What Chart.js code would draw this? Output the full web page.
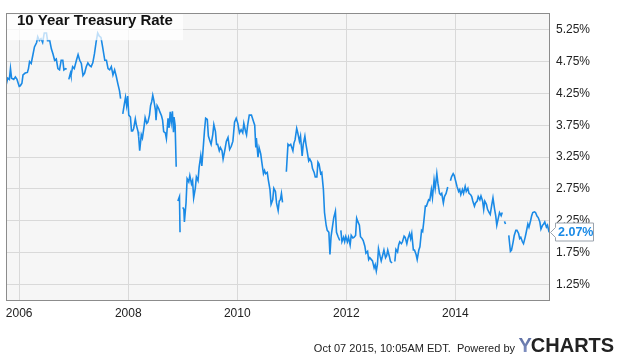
<!DOCTYPE html>
<html>
<head>
<meta charset="utf-8">
<script src="https://cdn.jsdelivr.net/npm/chart.js@4.4.1/dist/chart.umd.min.js"></script>
<style>
html,body{margin:0;padding:0;background:#fff;}
#wrap{width:623px;height:357px;position:relative;}
</style>
</head>
<body>
<div id="wrap"><canvas id="c" width="623" height="357"></canvas></div>
<script>
// ---- data (decimal years, percent); null = gap in the series ----
const dates = [
  2005.76,2005.79,2005.82,2005.84,2005.86,2005.90,2005.93,2005.96,2006.00,2006.02,
  2006.05,2006.07,2006.11,2006.15,2006.17,2006.19,2006.22,2006.25,2006.28,2006.32,
  2006.34,2006.37,2006.40,2006.43,2006.46,2006.50,2006.52,2006.56,2006.59,2006.62,
  2006.65,2006.68,2006.71,2006.74,2006.77,2006.80,2006.82,2006.85,2006.87,
  2006.89,
  2006.91,2006.94,2006.95,2006.98,2007.01,2007.05,2007.08,2007.11,2007.14,2007.17,
  2007.20,2007.23,2007.26,2007.29,2007.32,2007.35,2007.38,2007.41,2007.44,2007.47,
  2007.50,2007.53,2007.57,2007.60,2007.63,2007.66,2007.69,2007.72,2007.75,2007.78,
  2007.81,2007.84,2007.86,
  2007.88,
  2007.90,2007.93,2007.95,2007.97,2007.99,2008.01,2008.04,2008.06,2008.08,2008.10,
  2008.13,2008.15,2008.18,2008.19,2008.21,2008.24,2008.26,2008.29,2008.31,2008.34,
  2008.36,2008.39,2008.41,2008.43,2008.45,2008.47,2008.50,2008.51,2008.53,2008.56,
  2008.58,2008.61,2008.63,2008.65,2008.68,2008.70,2008.73,2008.75,2008.77,2008.79,
  2008.81,2008.83,2008.84,2008.86,2008.88,
  2008.895,
  2008.91,2008.94,2008.95,
  2008.98,
  2009.00,2009.02,2009.03,2009.06,2009.08,2009.11,2009.13,2009.16,2009.18,2009.20,
  2009.23,2009.25,2009.28,2009.30,2009.33,2009.35,2009.38,2009.40,2009.42,2009.45,
  2009.47,2009.50,2009.52,2009.55,2009.57,2009.60,2009.62,2009.64,2009.67,2009.69,
  2009.72,2009.74,2009.77,2009.80,2009.83,2009.86,2009.89,2009.92,2009.95,2009.98,
  2010.01,2010.04,2010.07,2010.10,2010.12,2010.15,2010.17,2010.19,2010.22,2010.26,
  2010.29,2010.32,2010.34,2010.35,2010.38,2010.40,2010.43,2010.45,2010.48,2010.50,
  2010.52,2010.55,2010.57,2010.60,2010.62,2010.65,2010.67,2010.70,2010.72,2010.75,
  2010.77,2010.79,2010.81,2010.83,
  2010.87,
  2010.90,2010.93,2010.95,2010.98,2011.00,2011.02,2011.04,2011.06,2011.09,2011.11,
  2011.14,2011.16,2011.19,2011.21,2011.24,2011.26,2011.28,2011.31,2011.33,2011.36,
  2011.38,2011.41,2011.43,2011.46,2011.48,2011.50,2011.53,2011.55,2011.58,2011.60,
  2011.63,2011.65,2011.68,2011.70,2011.72,2011.75,2011.77,2011.80,2011.82,2011.85,
  2011.88,
  2011.89,
  2011.90,2011.92,2011.95,2011.97,2011.99,2012.02,2012.04,2012.07,2012.09,2012.12,
  2012.14,2012.17,2012.19,2012.21,2012.24,2012.26,2012.29,2012.31,2012.34,2012.36,
  2012.39,2012.41,2012.43,2012.46,2012.48,2012.51,2012.53,2012.55,2012.57,2012.59,
  2012.62,2012.64,2012.67,2012.69,2012.72,2012.74,2012.76,2012.79,2012.81,2012.84,
  2012.865,
  2012.89,2012.91,2012.94,2012.96,2012.98,2013.01,2013.03,2013.06,2013.08,2013.11,
  2013.13,2013.16,2013.18,2013.20,2013.23,2013.25,2013.28,2013.30,2013.33,2013.35,
  2013.38,2013.40,2013.42,2013.45,2013.47,2013.51,2013.53,2013.56,2013.58,2013.61,
  2013.63,2013.66,2013.68,2013.71,2013.73,2013.75,2013.78,2013.80,2013.83,2013.86,
  2013.885,
  2013.91,2013.93,2013.96,2013.98,2014.01,2014.03,2014.06,2014.08,2014.10,2014.13,
  2014.15,2014.18,2014.20,2014.23,2014.25,2014.28,2014.30,2014.32,2014.35,2014.37,
  2014.40,2014.42,2014.45,2014.47,2014.50,2014.52,2014.54,2014.57,2014.59,2014.62,
  2014.64,2014.67,2014.69,2014.72,2014.74,2014.76,2014.79,2014.81,2014.84,2014.86,
  2014.88,
  2014.90,2014.92,
  2014.95,
  2014.98,2015.01,2015.03,2015.06,2015.08,2015.11,2015.13,2015.16,2015.18,2015.20,
  2015.23,2015.25,2015.28,2015.30,2015.33,2015.35,2015.38,2015.40,2015.42,2015.45,
  2015.47,2015.50,2015.52,2015.55,2015.57,2015.60,2015.62,2015.64,2015.67,2015.69,
  2015.72
];
const rates = [
  4.38,4.49,4.47,4.64,4.49,4.47,4.51,4.47,4.36,4.37,
  4.41,4.54,4.57,4.58,4.64,4.75,4.72,4.85,4.98,5.05,
  5.14,5.08,5.11,5.05,5.20,5.20,5.08,5.08,4.95,4.87,
  4.77,4.79,4.64,4.62,4.77,4.77,4.62,4.64,4.63,
  null,
  4.47,4.57,4.53,4.67,4.64,4.77,4.86,4.77,4.72,4.53,
  4.57,4.67,4.73,4.69,4.67,4.73,4.87,5.05,5.20,5.15,
  5.13,4.98,4.77,4.77,4.64,4.62,4.67,4.54,4.62,4.52,
  4.40,4.29,4.17,
  null,
  3.93,4.09,4.19,4.06,4.21,3.91,3.88,3.66,3.66,3.70,
  3.85,3.75,3.65,3.58,3.35,3.60,3.55,3.73,3.87,3.78,
  3.80,3.91,4.06,4.12,4.22,4.14,3.98,3.83,4.06,4.01,
  3.96,3.90,3.83,3.65,3.63,3.54,3.86,3.71,3.96,3.80,
  3.97,3.64,3.88,3.75,3.10,
  null,
  2.56,2.63,2.07,
  null,
  2.46,2.43,2.23,2.53,2.91,2.86,2.96,2.83,2.88,2.61,
  2.76,2.94,2.88,3.09,3.27,3.11,3.45,3.68,3.86,3.84,
  3.58,3.50,3.45,3.60,3.76,3.65,3.45,3.45,3.35,3.40,
  3.35,3.22,3.35,3.50,3.56,3.37,3.42,3.50,3.80,3.86,
  3.78,3.63,3.68,3.63,3.78,3.66,3.60,3.75,3.91,3.91,
  3.83,3.75,3.40,3.55,3.25,3.40,3.30,3.17,2.99,3.04,
  2.99,3.01,2.89,2.74,2.51,2.58,2.76,2.71,2.53,2.41,
  2.56,2.58,2.68,2.54,
  null,
  3.02,3.45,3.43,3.45,3.40,3.35,3.47,3.52,3.70,3.63,
  3.50,3.58,3.27,3.45,3.58,3.45,3.35,3.19,3.22,3.17,
  3.07,3.01,2.94,2.94,3.17,3.14,2.99,3.01,2.74,2.38,
  2.18,2.10,2.07,1.72,2.00,2.18,2.30,2.40,2.07,2.00,
  1.94,
  null,
  2.10,1.92,1.99,1.92,2.00,1.92,1.99,1.87,2.02,1.98,
  1.99,2.02,2.29,2.24,2.18,2.00,1.97,1.94,1.85,1.74,
  1.77,1.64,1.67,1.64,1.62,1.51,1.56,1.46,1.56,1.81,
  1.69,1.62,1.72,1.79,1.67,1.70,1.79,1.69,1.61,1.59,
  null,
  1.61,1.80,1.76,1.87,1.92,1.89,1.92,2.01,1.99,1.89,
  1.97,2.05,1.97,2.05,1.79,1.79,1.72,1.64,1.79,1.84,
  2.10,2.08,2.23,2.48,2.48,2.58,2.57,2.74,2.61,2.89,
  2.76,2.99,2.84,2.68,2.66,2.68,2.53,2.63,2.68,2.78,
  null,
  2.88,2.94,2.99,2.96,2.86,2.79,2.71,2.74,2.66,2.74,
  2.68,2.79,2.71,2.76,2.68,2.66,2.63,2.56,2.48,2.53,
  2.56,2.63,2.58,2.64,2.56,2.43,2.56,2.51,2.43,2.38,
  2.35,2.51,2.61,2.43,2.33,2.18,2.30,2.38,2.33,2.38,
  null,
  2.24,2.20,
  null,
  2.02,1.77,1.79,1.92,2.02,2.10,2.10,2.05,1.97,1.99,
  1.92,1.89,1.99,2.07,2.20,2.15,2.25,2.33,2.38,2.39,
  2.38,2.32,2.30,2.23,2.12,2.18,2.20,2.23,2.15,2.18,
  2.07
];
const xTicks = [2006, 2008, 2010, 2012, 2014];
const yTicks = [1.25, 1.75, 2.25, 2.75, 3.25, 3.75, 4.25, 4.75, 5.25];
const chartTitle = "10 Year Treasury Rate";
const footerText = "Oct 07 2015, 10:05AM EDT.  Powered by";

const FONT = "'Liberation Sans', Arial, Helvetica, sans-serif";
const LINE_COLOR = '#1a8ae6';

const points = dates.map((d, i) => ({ x: d, y: rates[i] }));
let lastVal = null;
for (let i = rates.length - 1; i >= 0; i--) { if (rates[i] !== null) { lastVal = rates[i]; break; } }

const decor = {
  id: 'decor',
  beforeDraw(chart) {
    const { ctx, chartArea: a } = chart;
    ctx.save();
    ctx.fillStyle = '#f6f6f6';
    ctx.fillRect(a.left, a.top, a.right - a.left, a.bottom - a.top);
    ctx.restore();
  },
  afterDatasetsDraw(chart) {
    const { ctx, chartArea: a } = chart;
    ctx.save();
    // title box
    ctx.fillStyle = 'rgba(255,255,255,0.72)';
    ctx.fillRect(a.left + 1, a.top + 1, 176, 26);
    ctx.fillStyle = '#111';
    ctx.font = 'bold 15px ' + FONT;
    ctx.textBaseline = 'alphabetic';
    ctx.textAlign = 'left';
    ctx.fillText(chartTitle, 17, 24.5);
    // frame
    ctx.strokeStyle = '#8c8c8c';
    ctx.lineWidth = 1;
    ctx.strokeRect(Math.round(a.left) + 0.5, Math.round(a.top) + 0.5,
                   Math.round(a.right - a.left) - 1, Math.round(a.bottom - a.top) - 1);
    ctx.restore();
  },
  afterDraw(chart) {
    const { ctx, chartArea: a } = chart;
    const ys = chart.scales.y;
    ctx.save();
    // last value tag
    const py = Math.round(ys.getPixelForValue(lastVal)) + 0.5;
    const L = a.right + 5.5, R = L + 38, T = py - 9.5, B = py + 8.5;
    ctx.beginPath();
    ctx.moveTo(a.right + 0.5, py);
    ctx.lineTo(L, py - 5);
    ctx.lineTo(L, T);
    ctx.lineTo(R, T);
    ctx.lineTo(R, B);
    ctx.lineTo(L, B);
    ctx.lineTo(L, py + 5);
    ctx.closePath();
    ctx.fillStyle = '#fff';
    ctx.fill();
    ctx.strokeStyle = '#9aa3ad';
    ctx.lineWidth = 1;
    ctx.stroke();
    ctx.fillStyle = LINE_COLOR;
    ctx.font = 'bold 12.5px ' + FONT;
    ctx.textAlign = 'left';
    ctx.textBaseline = 'middle';
    ctx.fillText(lastVal.toFixed(2) + '%', L + 2.5, py);
    // footer
    ctx.textBaseline = 'alphabetic';
    ctx.textAlign = 'right';
    ctx.fillStyle = '#222';
    ctx.font = '11px ' + FONT;
    ctx.fillText(footerText, 515, 351.5);
    ctx.textAlign = 'left';
    ctx.font = 'bold 20px ' + FONT;
    const g = ctx.createLinearGradient(0, 337, 0, 352);
    g.addColorStop(0, '#5d6fa3');
    g.addColorStop(1, '#7f8fc0');
    ctx.fillStyle = g;
    ctx.fillText('Y', 518.5, 352);
    const yw = ctx.measureText('Y').width;
    ctx.fillStyle = '#222';
    ctx.fillText('CHARTS', 518.5 + yw - 1, 352);
    ctx.restore();
  }
};

new Chart(document.getElementById('c'), {
  type: 'line',
  data: {
    datasets: [{
      data: points,
      borderColor: LINE_COLOR,
      borderWidth: 1.6,
      pointRadius: 0,
      pointHoverRadius: 0,
      tension: 0,
      spanGaps: false,
      fill: false
    }]
  },
  options: {
    responsive: false,
    animation: false,
    devicePixelRatio: 1,
    layout: { padding: { left: 6, top: 5, right: 0, bottom: 0 } },
    plugins: { legend: { display: false }, title: { display: false }, tooltip: { enabled: false } },
    scales: {
      x: {
        type: 'linear',
        min: 2005.758,
        max: 2015.736,
        grid: { color: '#d9d9d9', lineWidth: 1, drawTicks: false },
        border: { display: false },
        afterBuildTicks(s) { s.ticks = xTicks.map(v => ({ value: v })); },
        afterFit(s) { s.height = 56; },
        ticks: {
          padding: 5,
          color: '#222',
          font: { family: FONT, size: 12 },
          maxRotation: 0,
          autoSkip: false,
          callback: v => String(v)
        }
      },
      y: {
        type: 'linear',
        position: 'right',
        min: 0.99,
        max: 5.51,
        grid: { color: '#d9d9d9', lineWidth: 1, drawTicks: false },
        border: { display: false },
        afterBuildTicks(s) { s.ticks = yTicks.map(v => ({ value: v })); },
        afterFit(s) { s.width = 73; },
        ticks: {
          padding: 6,
          color: '#222',
          font: { family: FONT, size: 12 },
          autoSkip: false,
          callback: v => Number(v).toFixed(2) + '%'
        }
      }
    }
  },
  plugins: [decor]
});
</script>
</body>
</html>
